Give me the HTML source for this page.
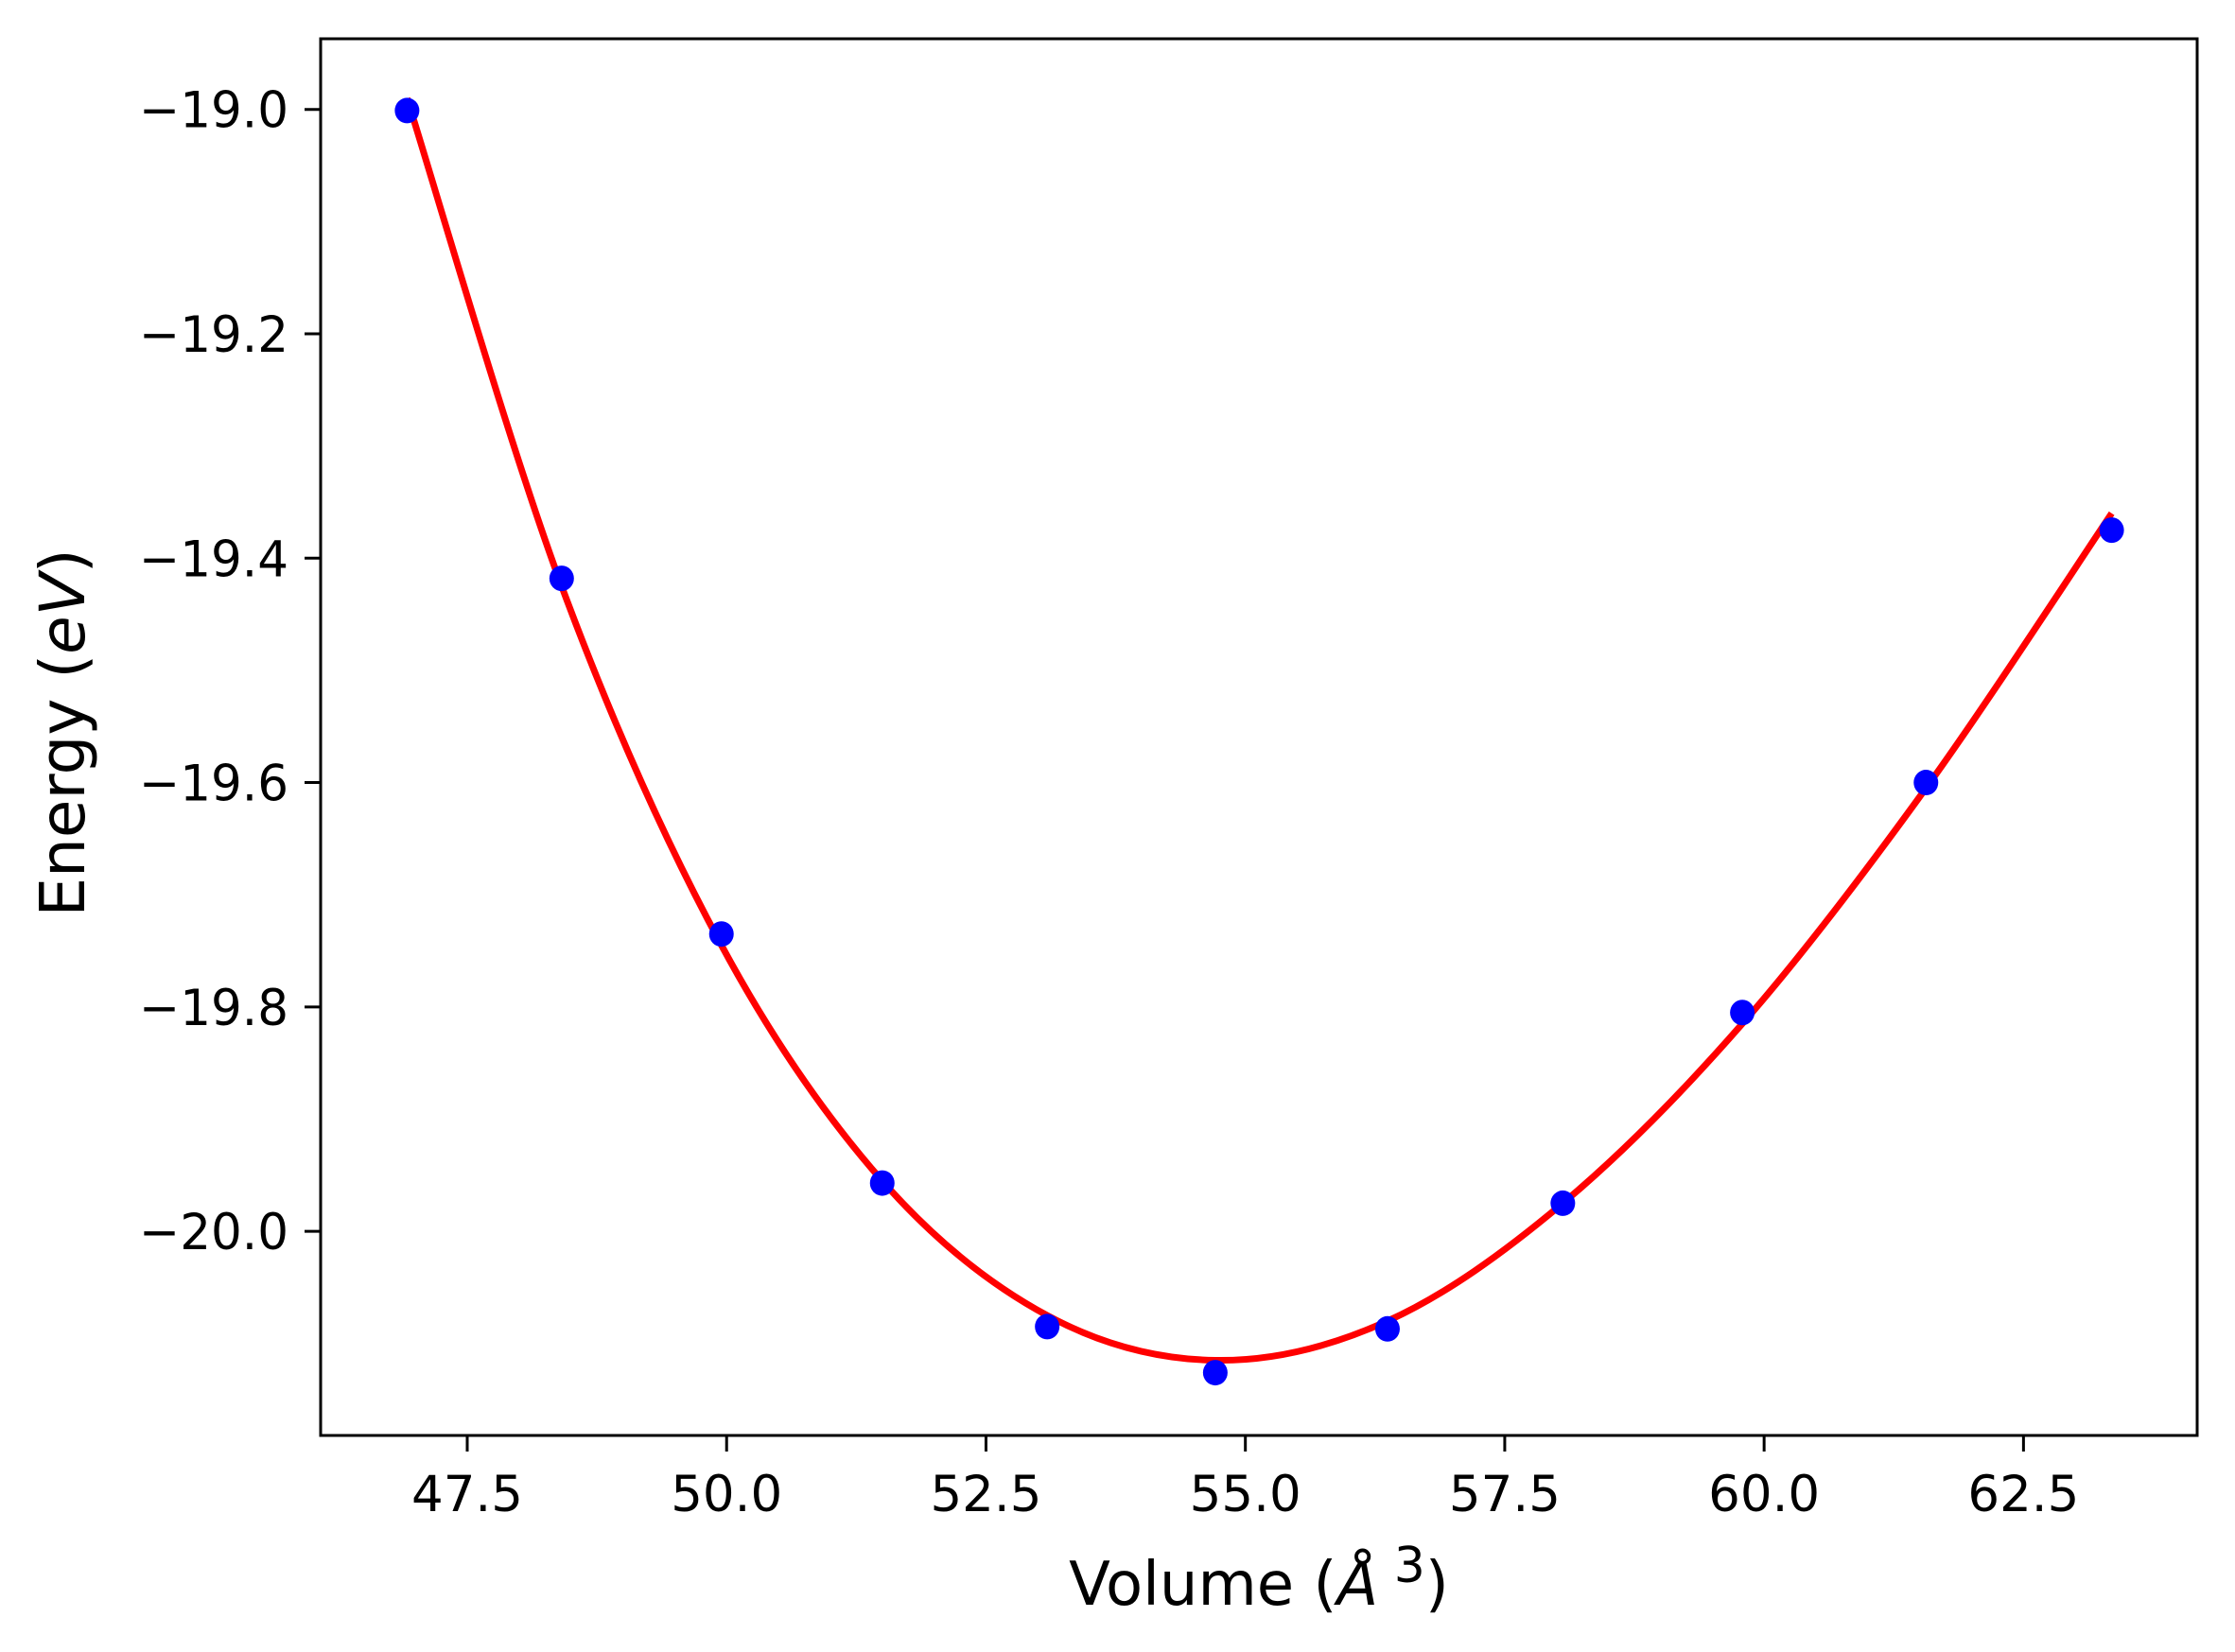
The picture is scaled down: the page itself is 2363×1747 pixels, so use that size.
<!DOCTYPE html>
<html><head><meta charset="utf-8"><style>
html,body{margin:0;padding:0;background:#fff}
svg{display:block}
text{font-family:"DejaVu Sans","Liberation Sans",sans-serif;fill:#000}
</style></head><body>
<svg id="chart" width="2363" height="1747" viewBox="0 0 2363 1747" xmlns="http://www.w3.org/2000/svg">
<rect x="0" y="0" width="2363" height="1747" fill="#fff"/>
<g id="plot"></g>
<g id="axes"></g>
</svg>
<script>
const volumes = [46.92, 48.41, 49.95, 51.50, 53.09, 54.71, 56.37, 58.06, 59.79, 61.56, 63.35];
const energies = [-19.001, -19.418, -19.735, -19.957, -20.085, -20.126, -20.087, -19.975, -19.805, -19.600, -19.375];
const fitVolumes = [46.92, 48.41, 49.95, 51.50, 53.09, 54.71, 56.37, 58.06, 59.79, 61.56, 63.35];
const fitEnergies = [-18.99, -19.425, -19.745, -19.955, -20.075, -20.115, -20.08, -19.975, -19.815, -19.605, -19.36];
const xTicks = [47.5, 50.0, 52.5, 55.0, 57.5, 60.0, 62.5];
const xTickLabels = ["47.5", "50.0", "52.5", "55.0", "57.5", "60.0", "62.5"];
const yTicks = [-19.0, -19.2, -19.4, -19.6, -19.8, -20.0];
const yTickLabels = ["\u221219.0", "\u221219.2", "\u221219.4", "\u221219.6", "\u221219.8", "\u221220.0"];

const L = 339, R = 2323, T = 41, B = 1518;
const xMin = 46.087, xMax = 64.174, yMin = -20.182, yMax = -18.937;
const sx = v => L + (v - xMin) / (xMax - xMin) * (R - L);
const sy = v => B - (v - yMin) / (yMax - yMin) * (B - T);
const NS = "http://www.w3.org/2000/svg";
function mk(tag, attrs, parent) {
  const e = document.createElementNS(NS, tag);
  for (const k in attrs) e.setAttribute(k, attrs[k]);
  parent.appendChild(e);
  return e;
}
const plot = document.getElementById('plot');
const axes = document.getElementById('axes');

const pts = fitVolumes.map((v, i) => [sx(v), sy(fitEnergies[i])]);
let d = `M${pts[0][0]},${pts[0][1]}`;
for (let i = 0; i < pts.length - 1; i++) {
  const p0 = pts[i - 1] || pts[i], p1 = pts[i], p2 = pts[i + 1], p3 = pts[i + 2] || pts[i + 1];
  const c1 = [p1[0] + (p2[0] - p0[0]) / 6, p1[1] + (p2[1] - p0[1]) / 6];
  const c2 = [p2[0] - (p3[0] - p1[0]) / 6, p2[1] - (p3[1] - p1[1]) / 6];
  d += ` C${c1[0]},${c1[1]} ${c2[0]},${c2[1]} ${p2[0]},${p2[1]}`;
}
const curve = mk('path', {d: d, fill: 'none', stroke: '#ff0000', 'stroke-width': 7}, plot);



volumes.forEach((v, i) => {
  const c = mk('ellipse', {cx: sx(v), cy: sy(energies[i]), rx: 13, ry: 13.5, fill: '#0000ff'}, plot);
  
  
});

const frame = mk('rect', {x: L, y: T, width: R - L, height: B - T, fill: 'none', stroke: '#000', 'stroke-width': 3}, axes);



xTicks.forEach((v, i) => {
  const x = sx(v);
  const t = mk('line', {x1: x, x2: x, y1: B, y2: B + 17, stroke: '#000', 'stroke-width': 3}, axes);
  
  
  const lb = mk('text', {x: x, y: B + 80, 'font-size': 53, 'text-anchor': 'middle'}, axes);
  lb.textContent = xTickLabels[i];
  
  
});
yTicks.forEach((v, i) => {
  const y = sy(v);
  const t = mk('line', {x1: L - 17, x2: L, y1: y, y2: y, stroke: '#000', 'stroke-width': 3}, axes);
  
  
  const lb = mk('text', {x: L - 34, y: y + 19, 'font-size': 53, 'text-anchor': 'end', textLength: 158, lengthAdjust: 'spacingAndGlyphs'}, axes);
  lb.textContent = yTickLabels[i];
  
  
});
</script>
<svg style="position:absolute;left:0;top:0" width="2363" height="1747">
<text x="1331" y="1697" font-size="64" text-anchor="middle" style="font-family:'DejaVu Sans','Liberation Sans',sans-serif">Volume (<tspan font-style="italic">Å</tspan><tspan font-size="52" dy="-24"> 3</tspan><tspan dy="24">)</tspan></text>
<text transform="translate(89,775) rotate(-90)" font-size="66" text-anchor="middle" style="font-family:'DejaVu Sans','Liberation Sans',sans-serif">Energy (<tspan font-style="italic">eV</tspan>)</text>
</svg>
</body></html>
